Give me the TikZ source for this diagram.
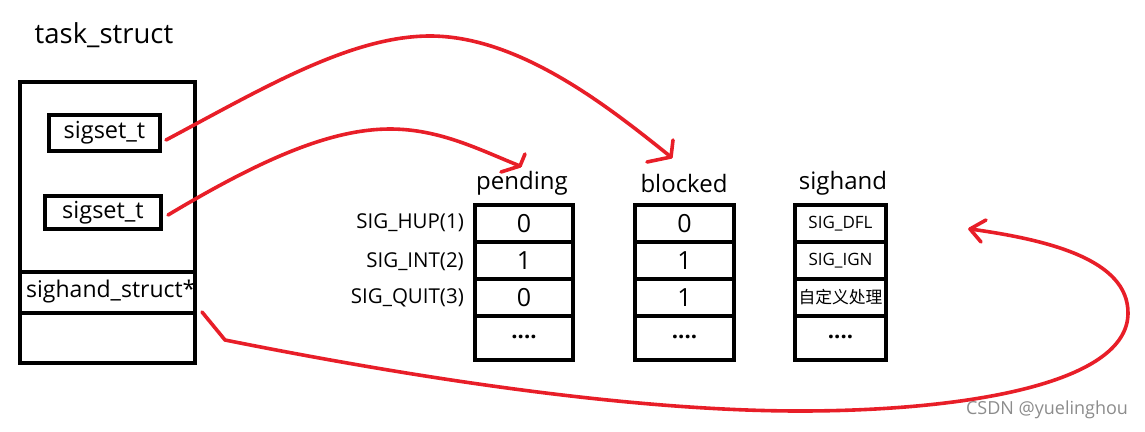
\documentclass[tikz,border=0pt]{standalone}
\usepackage{fontspec}
\setmainfont{Open Sans}
\newfontfamily\cjk{Noto Sans CJK SC}
\newcommand{\mydots}{\raisebox{3pt}{\fontsize{22}{24}\selectfont\bfseries....}}
\begin{document}
\begin{tikzpicture}[x=1pt,y=-1pt,
  box/.style={draw=black,line width=4pt,fill=white,inner sep=0pt,outer sep=0pt},
  cell/.style={box,minimum height=37pt},
  red/.style={draw={rgb,255:red,232;green,30;blue,40},line width=3.6pt,line cap=round,line join=round},
  lbl/.style={inner sep=0pt,font=\fontsize{24}{26}\selectfont},
  sig/.style={inner sep=0pt,anchor=east,font=\fontsize{20.5}{22}\selectfont},
  val/.style={font=\fontsize{25}{27}\selectfont},
  hnd/.style={font=\fontsize{17}{19}\selectfont}
]
\useasboundingbox (0,0) rectangle (1145,431);
% task_struct
\node[lbl,font=\fontsize{27.5}{30}\selectfont] (title) at (104,35) {task\_struct};
\node[box,minimum width=175pt,minimum height=190pt] (top) at (107.5,177) {};
\node[box,minimum width=175pt,minimum height=41pt] (shs) at (107.5,292.5) {};
\node[box,minimum width=175pt,minimum height=50pt] (bot) at (107.5,338) {};
\node[lbl,anchor=west,font=\fontsize{23}{25}\selectfont] (shstxt) at (26,292) {sighand\_struct*};
\node[box,minimum width=111pt,minimum height=36pt,font=\fontsize{23.5}{25}\selectfont] (s1) at (104.5,133) {sigset\_t};
\node[box,minimum width=116pt,minimum height=33pt,font=\fontsize{23.5}{25}\selectfont] (s2) at (103,212.5) {sigset\_t};
% headers
\node[lbl] (hp) at (522,183) {pending};
\node[lbl] (hb) at (684,183) {blocked};
\node[lbl] (hs) at (843,183) {sighand};
% pending
\node[cell,minimum width=98pt,val] (p1) at (524,223.5) {0};
\node[cell,minimum width=98pt,val] (p2) at (524,260.5) {1};
\node[cell,minimum width=98pt,val] (p3) at (524,297.5) {0};
\node[box,minimum width=98pt,minimum height=44pt,val] (p4) at (524,338) {\mydots};
% blocked
\node[cell,minimum width=99pt,val] (b1) at (684.5,223.5) {0};
\node[cell,minimum width=99pt,val] (b2) at (684.5,260.5) {1};
\node[cell,minimum width=99pt,val] (b3) at (684.5,297.5) {1};
\node[box,minimum width=99pt,minimum height=44pt,val] (b4) at (684.5,338) {\mydots};
% sighand
\node[cell,minimum width=91pt,hnd] (h1) at (840.5,223.5) {SIG\_DFL};
\node[cell,minimum width=91pt,hnd] (h2) at (840.5,260.5) {SIG\_IGN};
\node[cell,minimum width=91pt,hnd] (h3) at (840.5,297.5) {\cjk\fontsize{16.8}{18}\selectfont 自定义处理};
\node[box,minimum width=91pt,minimum height=44pt,val] (h4) at (840.5,338) {\mydots};
% signal labels
\node[sig] (l1) at (464,223) {SIG\_HUP(1)};
\node[sig] (l2) at (464,262) {SIG\_INT(2)};
\node[sig] (l3) at (464,298) {SIG\_QUIT(3)};
% watermark
\node[inner sep=0pt,text=black!45,font=\fontsize{18}{20}\selectfont] (wm) at (1047,410) {CSDN @yuelinghou};
% arrows
\coordinate (a1s) at (166,140);
\coordinate (a1t) at (671,157);
\coordinate (a2s) at (168,215);
\coordinate (a2t) at (520,166);
\coordinate (a3s) at (202,312);
\coordinate (a3k) at (225,340);
\coordinate (a3t) at (970,229);
\draw[red] (a1s) .. controls (260,90) and (350,36) .. (430,36) .. controls (520,36) and (610,108) .. (a1t);
\draw[red] (a1t) -- (673,140);
\draw[red] (a1t) -- (647,162);
\draw[red] (a2s) .. controls (260,160) and (330,129) .. (390,129) .. controls (440,129) and (480,150) .. (a2t);
\draw[red] (a2t) -- (525,154);
\draw[red] (a2t) -- (501,172);
\draw[red] (a3s) -- (a3k) .. controls (450,385) and (650,411) .. (800,411) .. controls (960,411) and (1128,385) .. (1128,313) .. controls (1128,260) and (1050,240) .. (a3t);
\draw[red] (a3t) -- (986,220);
\draw[red] (a3t) -- (981,242);
\end{tikzpicture}
\end{document}
